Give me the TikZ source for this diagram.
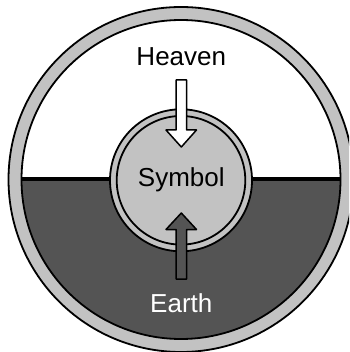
\documentclass[tikz,border=0pt]{standalone}
\usepackage{fontspec}
\setmainfont{Liberation Sans}
\definecolor{ringgray}{HTML}{C2C2C2}
\definecolor{earthgray}{HTML}{545454}
\begin{document}
\begin{tikzpicture}[x=1pt,y=-1pt,
  outline/.style={draw=black,line width=1.8pt},
  arrowshape/.style={draw=black,line width=1.5pt,line join=round},
  lbl/.style={anchor=base,inner sep=0pt,font=\fontsize{26}{30}\selectfont}]
\useasboundingbox (0,0) rectangle (349,352);
\clip (0,0) rectangle (349,352);
\coordinate (c) at (181,179.5);
\coordinate (s) at (181,180.3);
% outer ring
\fill[ringgray] (c) circle[radius=172.5pt];
\draw[outline] (c) circle[radius=172.5pt];
% inner disc: heaven (white) and earth (dark)
\fill[white] (c) circle[radius=159.5pt];
\begin{scope}
  \clip (c) circle[radius=159.5pt];
  \fill[earthgray] (0,179.5) rectangle (349,352);
  \draw[black,line width=4pt] (0,179.3) -- (349,179.3);
\end{scope}
\draw[outline] (c) circle[radius=159.5pt];
% symbol disc
\fill[ringgray] (s) circle[radius=71pt];
\draw[outline] (s) circle[radius=71pt];
\draw[outline,fill=ringgray] (s) circle[radius=64.3pt];
% arrows
\draw[arrowshape,fill=white] (176,80) -- (186.5,80) -- (186.5,130) -- (196.5,130)
  -- (181.3,147) -- (166,130) -- (176,130) -- cycle;
\draw[arrowshape,fill=earthgray] (176,279) -- (186.5,279) -- (186.5,229.5) -- (196.5,229.5)
  -- (181.3,213) -- (166,229.5) -- (176,229.5) -- cycle;
% labels
\node[lbl] (heaven) at (181.3,65.7) {Heaven};
\node[lbl] (symbol) at (181.3,186) {Symbol};
\node[lbl,text=white] (earth) at (181.3,312.7) {Earth};
\end{tikzpicture}
\end{document}
